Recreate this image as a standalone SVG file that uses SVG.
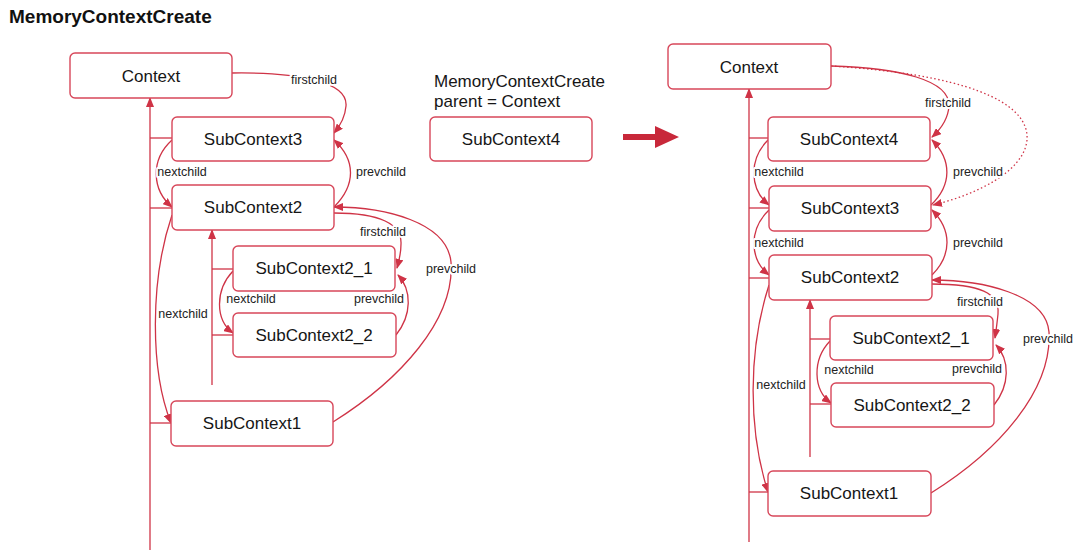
<svg xmlns="http://www.w3.org/2000/svg" width="1080" height="553" viewBox="0 0 1080 553">
<defs>
<marker id="ah" markerUnits="userSpaceOnUse" markerWidth="10" markerHeight="8" refX="9" refY="4" orient="auto">
<path d="M0,0 L10,4 L0,8 Z" fill="#cf3346"/>
</marker>
<style>
.box{fill:#fff;stroke:#d7475a;stroke-width:1.4}
.nt{font-family:"Liberation Sans",Arial,sans-serif;font-size:17px;fill:#161616;text-anchor:middle}
.e{fill:none;stroke:#cf3346;stroke-width:1.3}
.ea{fill:none;stroke:#cf3346;stroke-width:1.3;marker-end:url(#ah)}
.dot{fill:none;stroke:#cf3346;stroke-width:1.3;stroke-dasharray:1.5 2.5;marker-end:url(#ah)}
.lb{font-family:"Liberation Sans",Arial,sans-serif;font-size:12.5px;fill:#222;text-anchor:middle;stroke:#fff;stroke-width:4;paint-order:stroke;stroke-linejoin:round}
.txt{font-family:"Liberation Sans",Arial,sans-serif;font-size:17px;fill:#161616}
</style>
</defs>
<rect width="1080" height="553" fill="#fff"/>
<text x="9" y="23" font-family="Liberation Sans,Arial,sans-serif" font-size="19" font-weight="bold" fill="#111">MemoryContextCreate</text>

<g id="connectors">
<!-- left -->
<line class="ea" x1="150" y1="550" x2="150" y2="98"/>
<line class="e" x1="150" y1="138" x2="172" y2="138"/>
<line class="e" x1="150" y1="208" x2="172" y2="208"/>
<line class="e" x1="150" y1="423" x2="171" y2="423"/>
<line class="ea" x1="212" y1="385" x2="212" y2="230"/>
<line class="e" x1="212" y1="269" x2="233" y2="269"/>
<line class="e" x1="212" y1="335" x2="233" y2="335"/>
<path class="ea" d="M232,73 C300,72 348,82 346,106 C345,118 340,126 334,133"/>
<path class="ea" d="M172,140 C150,160 152,190 172,207"/>
<path class="ea" d="M334,207 C356,185 356,160 334,140"/>
<path class="ea" d="M334,213 C380,213 402,224 401,244 C401,254 399,261 397,268"/>
<path class="ea" d="M233,271 C215,290 215,320 233,333"/>
<path class="ea" d="M396,335 C412,315 412,290 398,275"/>
<path class="ea" d="M172,215 C150,280 150,370 171,423"/>
<path class="ea" d="M333,422 C400,380 455,320 451,262 C447,222 385,207 334,207"/>
<!-- big arrow -->
<path d="M623,134 L655,134 L655,126 L679,137 L655,148 L655,140 L623,140 Z" fill="#c8283a"/>
<!-- right -->
<line class="ea" x1="749" y1="542" x2="749" y2="89"/>
<line class="e" x1="749" y1="138" x2="768" y2="138"/>
<line class="e" x1="749" y1="208" x2="769" y2="208"/>
<line class="e" x1="749" y1="278" x2="769" y2="278"/>
<line class="e" x1="749" y1="492" x2="768" y2="492"/>
<line class="ea" x1="810" y1="457" x2="810" y2="300"/>
<line class="e" x1="810" y1="339" x2="830" y2="339"/>
<line class="e" x1="810" y1="404" x2="831" y2="404"/>
<path class="ea" d="M831,66 C900,68 950,80 949,106 C948,120 941,129 932,137"/>
<path class="dot" d="M831,66 C960,74 1030,100 1027,140 C1024,172 975,195 933,205"/>
<path class="ea" d="M768,140 C748,160 750,190 769,205"/>
<path class="ea" d="M931,205 C952,185 952,160 932,140"/>
<path class="ea" d="M769,210 C748,230 750,260 769,275"/>
<path class="ea" d="M932,275 C952,255 952,230 932,210"/>
<path class="ea" d="M932,284 C980,284 1000,293 998,314 C997,324 996,331 995,338"/>
<path class="ea" d="M830,341 C812,360 813,390 831,403"/>
<path class="ea" d="M994,405 C1010,385 1010,360 996,345"/>
<path class="ea" d="M769,285 C748,350 748,430 768,492"/>
<path class="ea" d="M931,493 C1000,450 1052,390 1049,332 C1046,294 982,280 932,280"/>
</g>

<g id="edge-labels">
<text class="lb" x="314" y="84">firstchild</text>
<text class="lb" x="182" y="176">nextchild</text>
<text class="lb" x="381" y="176">prevchild</text>
<text class="lb" x="383" y="236">firstchild</text>
<text class="lb" x="251" y="303">nextchild</text>
<text class="lb" x="379" y="303">prevchild</text>
<text class="lb" x="183" y="318">nextchild</text>
<text class="lb" x="451" y="273">prevchild</text>
<text class="lb" x="948" y="107">firstchild</text>
<text class="lb" x="779" y="176">nextchild</text>
<text class="lb" x="978" y="176">prevchild</text>
<text class="lb" x="779" y="247">nextchild</text>
<text class="lb" x="978" y="247">prevchild</text>
<text class="lb" x="980" y="306">firstchild</text>
<text class="lb" x="849" y="374">nextchild</text>
<text class="lb" x="977" y="373">prevchild</text>
<text class="lb" x="781" y="389">nextchild</text>
<text class="lb" x="1048" y="343">prevchild</text>
</g>

<g id="L-Context"><rect class="box" x="70" y="53" width="162" height="45" rx="5"/><text class="nt" x="151" y="82">Context</text></g>
<g id="L-SubContext3"><rect class="box" x="172" y="117" width="162" height="44" rx="5"/><text class="nt" x="253" y="145">SubContext3</text></g>
<g id="L-SubContext2"><rect class="box" x="172" y="185" width="162" height="45" rx="5"/><text class="nt" x="253" y="213">SubContext2</text></g>
<g id="L-SubContext2_1"><rect class="box" x="233" y="246" width="162" height="45" rx="5"/><text class="nt" x="314" y="274">SubContext2_1</text></g>
<g id="L-SubContext2_2"><rect class="box" x="233" y="313" width="163" height="44" rx="5"/><text class="nt" x="314" y="341">SubContext2_2</text></g>
<g id="L-SubContext1"><rect class="box" x="171" y="401" width="162" height="45" rx="5"/><text class="nt" x="252" y="429">SubContext1</text></g>

<g id="M-label"><text class="txt" x="434" y="87">MemoryContextCreate</text><text class="txt" x="434" y="107">parent = Context</text></g>
<g id="M-SubContext4"><rect class="box" x="430" y="117" width="162" height="44" rx="5"/><text class="nt" x="511" y="145">SubContext4</text></g>

<g id="R-Context"><rect class="box" x="668" y="44" width="163" height="45" rx="5"/><text class="nt" x="749" y="73">Context</text></g>
<g id="R-SubContext4"><rect class="box" x="768" y="117" width="162" height="44" rx="5"/><text class="nt" x="849" y="145">SubContext4</text></g>
<g id="R-SubContext3"><rect class="box" x="769" y="186" width="162" height="45" rx="5"/><text class="nt" x="850" y="214">SubContext3</text></g>
<g id="R-SubContext2"><rect class="box" x="769" y="255" width="163" height="45" rx="5"/><text class="nt" x="850" y="283">SubContext2</text></g>
<g id="R-SubContext2_1"><rect class="box" x="830" y="316" width="163" height="44" rx="5"/><text class="nt" x="911" y="344">SubContext2_1</text></g>
<g id="R-SubContext2_2"><rect class="box" x="831" y="383" width="163" height="44" rx="5"/><text class="nt" x="912" y="411">SubContext2_2</text></g>
<g id="R-SubContext1"><rect class="box" x="768" y="471" width="163" height="45" rx="5"/><text class="nt" x="849" y="499">SubContext1</text></g>
</svg>
